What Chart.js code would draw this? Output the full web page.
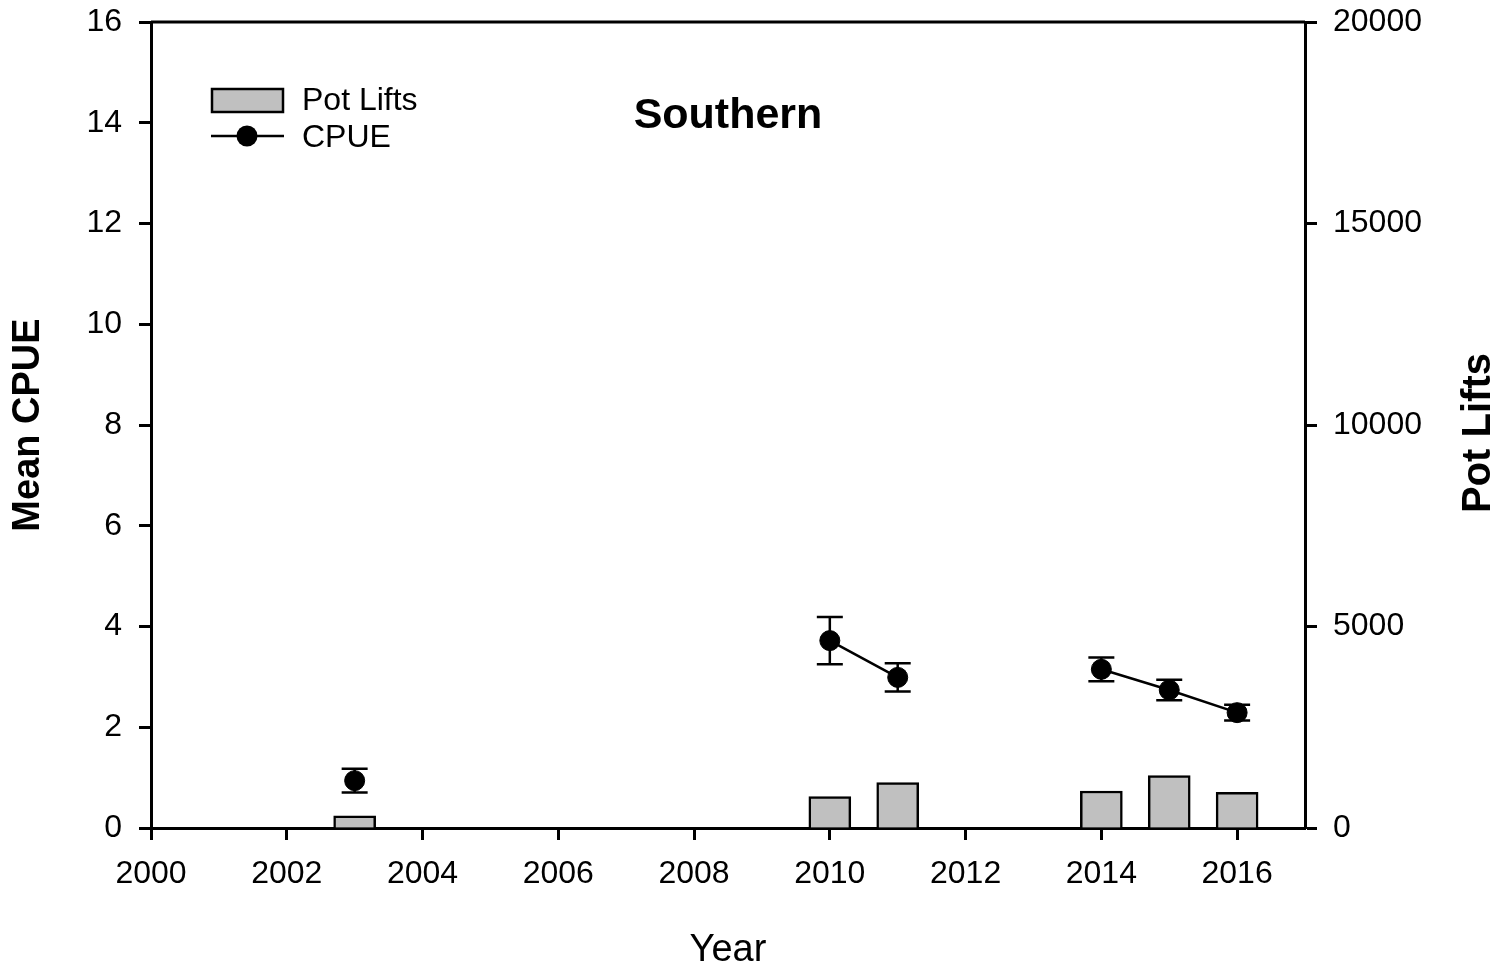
<!DOCTYPE html>
<html>
<head>
<meta charset="utf-8">
<script src="https://cdn.jsdelivr.net/npm/chart.js@4"></script>
<style>
  body { margin: 0; background: #fff; }
  #wrap { width: 1507px; height: 967px; }
</style>
</head>
<body>
<div id="wrap"><canvas id="chart"></canvas></div>
<script>
const years = [2003, 2004, 2005, 2006, 2007, 2008, 2009, 2010, 2011, 2012, 2013, 2014, 2015, 2016];
const cpue = [0.94, null, null, null, null, null, null, 3.72, 2.99, null, null, 3.15, 2.74, 2.29];
const cpueErr = [0.235, null, null, null, null, null, null, 0.47, 0.28, null, null, 0.235, 0.205, 0.155];
const potLifts = [300, null, null, null, null, null, null, 777, 1124, null, null, 918, 1298, 886];

const FONT = "'Liberation Sans', Arial, sans-serif";

// error bars, drawn under the dots
const errorBars = {
    id: 'errorBars',
    beforeDatasetsDraw(chart) {
        const ctx = chart.ctx;
        const xs = chart.scales.x, ys = chart.scales.y;
        ctx.save();
        ctx.strokeStyle = '#000';
        ctx.lineWidth = 2.5;
        years.forEach((yr, i) => {
            if (cpue[i] == null) return;
            const px = xs.getPixelForValue(yr);
            const top = ys.getPixelForValue(cpue[i] + cpueErr[i]);
            const bot = ys.getPixelForValue(cpue[i] - cpueErr[i]);
            ctx.beginPath();
            ctx.moveTo(px, top); ctx.lineTo(px, bot);
            ctx.moveTo(px - 13, top); ctx.lineTo(px + 13, top);
            ctx.moveTo(px - 13, bot); ctx.lineTo(px + 13, bot);
            ctx.stroke();
        });
        ctx.restore();
    }
};

// top frame line, right axis title, panel title and the legend box
const extras = {
    id: 'extras',
    afterDraw(chart) {
        const ctx = chart.ctx;
        const a = chart.chartArea;
        ctx.save();
        ctx.strokeStyle = '#000';
        ctx.lineWidth = 3;
        ctx.beginPath();
        ctx.moveTo(a.left, a.top);
        ctx.lineTo(a.right, a.top);
        ctx.stroke();

        ctx.fillStyle = '#000';
        ctx.textAlign = 'center';
        ctx.textBaseline = 'middle';

        // right axis title reads bottom to top
        ctx.save();
        ctx.translate(1479, 433);
        ctx.rotate(-Math.PI / 2);
        ctx.font = 'bold 40px ' + FONT;
        ctx.fillText('Pot Lifts', 0, 0);
        ctx.restore();

        ctx.font = 'bold 43px ' + FONT;
        ctx.fillText('Southern', 728, 116);

        // legend
        ctx.lineWidth = 2.5;
        ctx.fillStyle = '#c0c0c0';
        ctx.fillRect(212, 89, 71, 23);
        ctx.strokeRect(212, 89, 71, 23);
        ctx.beginPath();
        ctx.moveTo(211, 136); ctx.lineTo(284, 136);
        ctx.stroke();
        ctx.fillStyle = '#000';
        ctx.beginPath();
        ctx.arc(247, 136, 10.5, 0, Math.PI * 2);
        ctx.fill();
        ctx.font = '32px ' + FONT;
        ctx.textAlign = 'left';
        ctx.fillText('Pot Lifts', 302, 101);
        ctx.fillText('CPUE', 302, 138);
        ctx.restore();
    }
};

const axisGrid = {
    drawOnChartArea: false,
    drawTicks: true,
    tickLength: 12,
    tickWidth: 3,
    tickColor: '#000',
    offset: false
};
const axisBorder = { display: true, color: '#000', width: 3 };

new Chart(document.getElementById('chart'), {
    type: 'bar',
    data: {
        datasets: [{
            type: 'line',
            label: 'CPUE',
            data: years.map((y, i) => ({ x: y, y: cpue[i] })),
            yAxisID: 'y',
            borderColor: '#000',
            borderWidth: 2.5,
            backgroundColor: '#000',
            pointRadius: 10,
            pointBorderWidth: 1,
            pointBackgroundColor: '#000',
            spanGaps: false,
            tension: 0
        }, {
            type: 'bar',
            label: 'Pot Lifts',
            data: years.map((y, i) => ({ x: y, y: potLifts[i] })),
            yAxisID: 'y1',
            backgroundColor: '#c0c0c0',
            borderColor: '#000',
            borderWidth: 2.5,
            barThickness: 42
        }]
    },
    options: {
        responsive: true,
        maintainAspectRatio: false,
        animation: false,
        layout: { padding: { top: 22, left: 0, right: 0, bottom: 0 } },
        plugins: {
            legend: { display: false },
            tooltip: { enabled: false }
        },
        scales: {
            x: {
                type: 'linear',
                position: 'bottom',
                min: 2000,
                max: 2017,
                offset: false,
                grid: axisGrid,
                border: axisBorder,
                ticks: {
                    stepSize: 2,
                    includeBounds: false,
                    autoSkip: false,
                    maxRotation: 0,
                    padding: 15,
                    color: '#000',
                    font: { family: FONT, size: 32 },
                    callback: v => String(v)
                },
                title: {
                    display: true,
                    text: 'Year',
                    color: '#000',
                    font: { family: FONT, size: 38, lineHeight: 1 },
                    padding: { top: 0, bottom: -2.5 }
                },
                afterFit(s) { s.height = 139; }
            },
            y: {
                type: 'linear',
                position: 'left',
                min: 0,
                max: 16,
                grid: axisGrid,
                border: axisBorder,
                ticks: {
                    stepSize: 2,
                    padding: 17,
                    color: '#000',
                    font: { family: FONT, size: 32 }
                },
                title: {
                    display: true,
                    text: 'Mean CPUE',
                    color: '#000',
                    font: { family: FONT, size: 38, weight: 'bold', lineHeight: 1 },
                    padding: { top: 10, bottom: 0 }
                },
                afterFit(s) { s.width = 151; s.paddingTop = 0; s.paddingBottom = 0; }
            },
            y1: {
                type: 'linear',
                position: 'right',
                min: 0,
                max: 20000,
                grid: axisGrid,
                border: axisBorder,
                ticks: {
                    stepSize: 5000,
                    padding: 16,
                    color: '#000',
                    font: { family: FONT, size: 32 },
                    callback: v => String(v)
                },
                title: { display: false },
                afterFit(s) { s.width = 202; s.paddingTop = 0; s.paddingBottom = 0; }
            }
        }
    },
    plugins: [errorBars, extras]
});
</script>
</body>
</html>
